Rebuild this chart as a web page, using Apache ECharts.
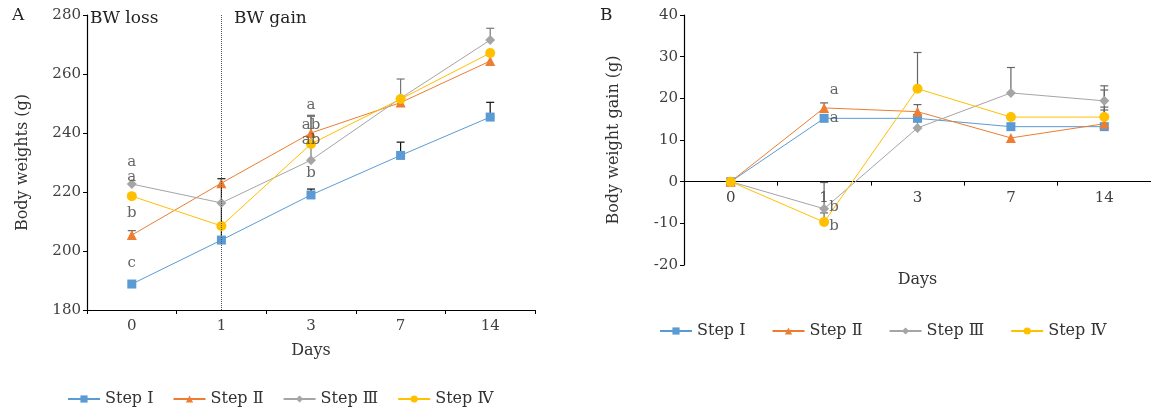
<!DOCTYPE html>
<html><head><meta charset="utf-8">
<script src="https://cdn.jsdelivr.net/npm/echarts@6/dist/echarts.min.js"></script>
<style>html,body{margin:0;padding:0;background:#fff}#c{width:1151px;height:407px}</style>
</head><body><div id="c"></div>
<script>
// ---- data ----
const days = ['0', '1', '3', '7', '14'];
const names = ['Step Ⅰ', 'Step Ⅱ', 'Step Ⅲ', 'Step Ⅳ'];
// Panel A: body weights (g)
const bwI   = [188.8, 203.7, 219.0, 232.4, 245.4];
const bwII  = [205.4, 223.0, 240.0, 250.3, 264.4];
const bwIII = [222.7, 216.3, 230.8, 251.8, 271.5];
const bwIV  = [218.6, 208.5, 236.3, 251.5, 267.1];
// upper error (SD) for panel A, null = not shown
const errAI   = [null, 20.8, 2.0, 4.5, 5.0];
const errAII  = [1.5, null, 6.0, null, null];
const errAIII = [null, null, 14.8, 6.5, 4.0];
const errAIV  = [null, null, null, null, null];
// Panel B: body weight gain (g)
const gI   = [0, 15.2, 15.2, 13.2, 13.2];
const gII  = [0, 17.7, 16.8, 10.5, 13.9];
const gIII = [0, -6.5, 12.9, 21.3, 19.4];
const gIV  = [0, -9.7, 22.3, 15.5, 15.5];
const errBI   = [null, null, null, null, 4.0];
const errBII  = [null, 1.2, null, null, 4.0];
const errBIII = [null, 6.3, 5.6, 6.1, 3.6];
const errBIV  = [null, 2.2, 8.7, null, 6.5];
// significance letters: [category index, value position, letter]
const lettersA = [[0, 230.2, 'a'], [0, 225.1, 'a'], [0, 212.9, 'b'], [0, 196.0, 'c'],
                  [2, 249.5, 'a'], [2, 242.7, 'ab'], [2, 237.6, 'ab'], [2, 226.4, 'b']];
const lettersB = [[1, 22.0, 'a'], [1, 15.2, 'a'], [1, -6.2, 'b'], [1, -10.6, 'b']];
const yTicksA = {min: 180, max: 280, interval: 20};
const yTicksB = {min: -20, max: 40, interval: 10};

// ---- styles ----
const colors = ['#5B9BD5', '#ED7D31', '#A5A5A5', '#FFC000'];
const symbols = ['rect', 'triangle', 'diamond', 'circle'];
const symSizes = [9, 10, 10, 10];
const FONT = "'DejaVu Serif','Liberation Serif',serif";
const TXT = '#404040';

function errSeries(xi, means, errs, color) {
  const data = [];
  means.forEach((m, i) => { if (errs[i] != null) data.push([i, m, m + errs[i]]); });
  return {
    type: 'custom', xAxisIndex: xi, yAxisIndex: xi, silent: true, z: 1,
    data: data,
    renderItem: function (params, api) {
      const p = api.coord([api.value(0), api.value(1)]);
      const t = api.coord([api.value(0), api.value(2)]);
      return {type: 'group', children: [
        {type: 'line', shape: {x1: p[0], y1: p[1], x2: p[0], y2: t[1]}, style: {stroke: color, lineWidth: 1.2}},
        {type: 'line', shape: {x1: p[0] - 4, y1: t[1], x2: p[0] + 4, y2: t[1]}, style: {stroke: color, lineWidth: 1.2}}
      ]};
    }
  };
}
function lineSeries(xi, k, vals) {
  return {
    type: 'line', name: names[k], xAxisIndex: xi, yAxisIndex: xi, data: vals, z: 3,
    symbol: symbols[k], symbolSize: symSizes[k], showSymbol: true,
    lineStyle: {color: colors[k], width: 1}, itemStyle: {color: colors[k]},
    emphasis: {disabled: true}, animation: false
  };
}
function letterSeries(xi, arr, dx) {
  return {
    type: 'scatter', xAxisIndex: xi, yAxisIndex: xi, symbolSize: 0, silent: true, z: 5,
    data: arr.map(a => ({value: [a[0], a[1]], label: {formatter: a[2]}})),
    label: {show: true, position: 'inside', offset: [dx, 0], fontFamily: FONT, fontSize: 15, color: '#404040'}
  };
}
function xAx(gi, nameGap, extra) {
  return Object.assign({
    type: 'category', gridIndex: gi, data: days, boundaryGap: true,
    axisLine: {onZero: false, lineStyle: {color: '#000', width: 1.2}},
    axisTick: {show: true, length: 4, lineStyle: {color: '#000'}},
    axisLabel: {fontFamily: FONT, fontSize: 15, color: TXT, margin: 9},
    name: 'Days', nameLocation: 'middle', nameGap: nameGap,
    nameTextStyle: {fontFamily: FONT, fontSize: 16, color: '#333'}
  }, extra || {});
}
function yAx(gi, t, name, nameGap) {
  return {
    type: 'value', gridIndex: gi, min: t.min, max: t.max, interval: t.interval,
    splitLine: {show: false},
    axisLine: {show: true, lineStyle: {color: '#000', width: 1.2}},
    axisTick: {show: true, length: 4, lineStyle: {color: '#000'}},
    axisLabel: {fontFamily: FONT, fontSize: 15, color: TXT, margin: 6},
    name: name, nameLocation: 'middle', nameGap: nameGap,
    nameTextStyle: {fontFamily: FONT, fontSize: 16, color: '#333'}
  };
}
const legendBase = {
  data: names, itemWidth: 32, itemHeight: 9,
  textStyle: {fontFamily: FONT, fontSize: 16, color: '#333'}, selectedMode: false
};

const series = [
  errSeries(0, bwI, errAI, '#111'),
  errSeries(0, bwII, errAII, '#666'),
  errSeries(0, bwIII, errAIII, '#777'),
  errSeries(0, bwIV, errAIV, '#777'),
  errSeries(1, gI, errBI, '#666'),
  errSeries(1, gII, errBII, '#666'),
  errSeries(1, gIII, errBIII, '#666'),
  errSeries(1, gIV, errBIV, '#666'),
  Object.assign(lineSeries(0, 0, bwI), {
    markLine: {silent: true, symbol: 'none', label: {show: false},
      lineStyle: {color: '#555', type: 'dotted', width: 1},
      data: [{xAxis: '1'}], animation: false}
  }),
  lineSeries(0, 1, bwII), lineSeries(0, 2, bwIII), lineSeries(0, 3, bwIV),
  lineSeries(1, 0, gI), lineSeries(1, 1, gII), lineSeries(1, 2, gIII), lineSeries(1, 3, gIV),
  letterSeries(0, lettersA, 0),
  letterSeries(1, lettersB, 10)
];

const gridB = {left: 684, top: 15, width: 467, height: 250};
// x axis of panel B sits on the zero line: shift it up from the grid bottom
const zeroShiftB = -gridB.height * (0 - yTicksB.min) / (yTicksB.max - yTicksB.min);

const chart = echarts.init(document.getElementById('c'), null, {renderer: 'canvas'});
chart.setOption({
  animation: false,
  backgroundColor: '#fff',
  grid: [
    {left: 87, top: 15, width: 448, height: 295},
    gridB
  ],
  xAxis: [xAx(0, 33), xAx(1, 90, {offset: zeroShiftB})],
  yAxis: [yAx(0, yTicksA, 'Body weights (g)', 56), yAx(1, yTicksB, 'Body weight gain (g)', 62)],
  legend: [
    Object.assign({}, legendBase, {top: 386, left: 62, itemGap: 19}),
    Object.assign({}, legendBase, {top: 318, left: 654, itemGap: 26})
  ],
  graphic: [
    {type: 'text', left: 12, top: 7, style: {text: 'A', font: '17px ' + FONT, fill: '#222'}},
    {type: 'text', left: 600, top: 7, style: {text: 'B', font: '17px ' + FONT, fill: '#222'}},
    {type: 'text', left: 90, top: 10, style: {text: 'BW loss', font: '17px ' + FONT, fill: '#222'}},
    {type: 'text', left: 234, top: 10, style: {text: 'BW gain', font: '17px ' + FONT, fill: '#222'}}
  ],
  series: series
});
</script></body></html>
